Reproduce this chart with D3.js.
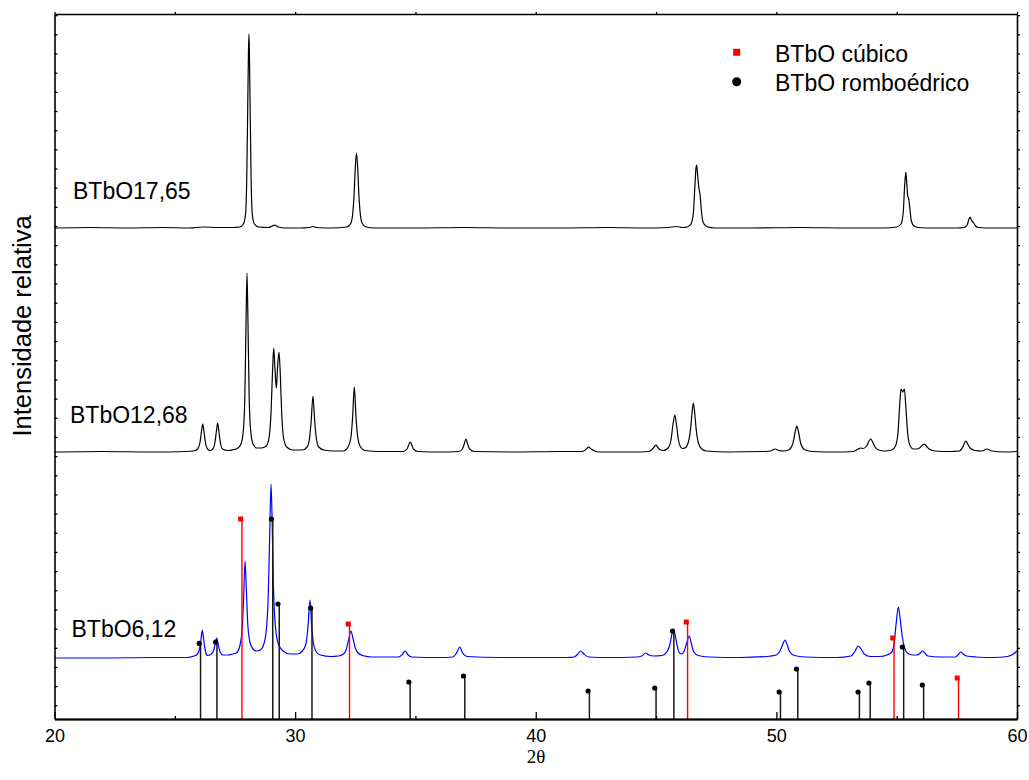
<!DOCTYPE html>
<html>
<head>
<meta charset="utf-8">
<script src="https://cdn.jsdelivr.net/npm/d3@7"></script>
<style>
  html, body { margin: 0; padding: 0; background: #fff; }
  svg { display: block; }
</style>
</head>
<body>
<svg id="chart" width="1029" height="780"></svg>
<script>
// ---- Diffraction patterns (2θ in degrees, intensity in a.u. above each pattern's background) ----
const sampleNames = ["BTbO17,65", "BTbO12,68", "BTbO6,12"];
const sampleOffsets = [491, 267, 61];   // vertical stacking shift of each pattern, a.u.

const pattern1765 = [
  [20,0],[21.5,0.5],[23,0],[24.5,0.5],[25.6,0],[26.2,1],[26.8,0.5],[27.4,0.5],[27.7,1],[27.85,4],[27.94,14],[27.99,50],
  [28.03,120],[28.06,175],[28.08,194],[28.10,175],[28.13,120],[28.17,50],[28.22,14],[28.31,4],[28.5,1],[28.9,0.5],
  [29.05,2],[29.16,3],[29.3,1],[29.6,0],[30.2,0],[30.6,0.5],[30.74,1.5],[30.9,0.5],[31.5,0],[32.15,1],[32.32,5],
  [32.40,16],[32.45,33],[32.50,60],[32.55,75],[32.60,60],[32.65,33],[32.70,16],[32.78,5],[32.95,1],[33.3,0],[35,0],
  [37,0.5],[39,0],[41,0],[43,0.5],[44.5,0],[45.5,0.5],[45.86,1.5],[46.1,0.5],[46.3,1],[46.45,4],[46.55,15],[46.61,40],
  [46.66,60],[46.69,63],[46.73,52],[46.78,40],[46.83,33],[46.88,18],[46.95,6],[47.1,1.5],[47.4,0],[49,0],[51,0.5],
  [53,0],[54.5,0],[55.0,1],[55.18,4],[55.27,15],[55.33,42],[55.38,56],[55.42,44],[55.46,32],[55.50,29],[55.55,19],
  [55.61,7],[55.72,2],[55.9,0.5],[56.5,0],[57.5,0],[57.8,0.5],[57.93,3],[57.99,8],[58.05,11],[58.10,8],[58.15,6.5],
  [58.2,5],[58.28,2],[58.4,0.5],[59,0],[60,0]
];

const pattern1268 = [
  [20,0],[22,0.5],[24,0],[25.5,0.5],[25.85,1.5],[25.95,3],[26.05,10],[26.11,21],[26.16,28],[26.21,21],[26.27,10],
  [26.36,3],[26.47,1.5],[26.58,3],[26.67,10],[26.73,21],[26.78,29],[26.83,21],[26.89,10],[26.98,3],[27.2,1.5],
  [27.45,2.5],[27.6,3.5],[27.75,8],[27.85,22],[27.91,55],[27.96,130],[28.00,179],[28.04,130],[28.09,55],[28.15,22],
  [28.25,8],[28.4,4],[28.6,4],[28.8,6],[28.92,15],[29.0,40],[29.06,80],[29.11,104],[29.16,84],[29.22,64],[29.27,85],
  [29.33,100],[29.38,80],[29.44,40],[29.52,14],[29.65,5],[29.9,2],[30.3,2],[30.5,5],[30.6,14],[30.67,32],[30.74,56],
  [30.81,32],[30.88,14],[30.98,5],[31.2,2],[31.6,1],[32.0,1],[32.2,5],[32.32,15],[32.39,35],[32.46,65],[32.53,35],
  [32.60,15],[32.72,5],[32.9,1.5],[33.5,0.5],[34.5,0.5],[34.65,3],[34.72,7],[34.78,10],[34.85,7],[34.92,3],[35.1,0.5],
  [36.0,0],[36.8,0.5],[36.95,3],[37.03,8],[37.10,13],[37.17,8],[37.25,3],[37.45,0.5],[39,0],[41,0.5],[41.95,0.5],
  [42.1,3],[42.2,5],[42.3,3],[42.45,1],[42.6,0],[44,0],[44.7,0.5],[44.85,3],[44.92,5],[44.99,7],[45.06,5],[45.15,2.5],
  [45.3,1.5],[45.5,4],[45.62,12],[45.7,27],[45.78,37],[45.85,27],[45.93,12],[46.02,5],[46.1,3.5],[46.2,4],[46.33,9],
  [46.43,22],[46.49,38],[46.55,49],[46.61,38],[46.67,22],[46.76,9],[46.9,3],[47.1,1],[48,0],[49.5,0.5],[49.75,1],
  [49.95,3],[50.1,1.5],[50.3,1],[50.5,2],[50.68,8],[50.78,20],[50.85,26],[50.92,20],[51.02,8],[51.2,2],[51.5,0.5],
  [52.5,0],[53.2,0.5],[53.4,3],[53.5,4],[53.6,3.5],[53.75,6],[53.85,11],[53.92,13],[54.0,10],[54.1,5],[54.25,2],
  [54.5,1],[54.8,2],[54.95,6],[55.05,18],[55.12,45],[55.18,63],[55.25,60],[55.32,63],[55.38,45],[55.46,18],[55.56,6],
  [55.7,3],[55.85,3],[55.95,4],[56.08,7],[56.15,8],[56.23,6],[56.35,3],[56.6,1],[57.2,0.5],[57.6,1],[57.75,5],
  [57.82,9],[57.88,11],[57.95,8],[58.05,4],[58.25,1.5],[58.55,1],[58.75,3],[58.95,1],[59.5,0],[60,0.5]
];

const pattern612 = [
  [20,0],[22,0],[24,0.5],[25.5,0.5],[25.8,2],[25.9,3],[26.0,7],[26.07,15],[26.14,28],[26.2,18],[26.27,7],[26.35,2.5],
  [26.5,3.5],[26.62,8],[26.69,15],[26.74,20],[26.8,14],[26.88,6],[27.0,3],[27.2,3],[27.4,4],[27.55,5],[27.7,12],
  [27.8,30],[27.86,60],[27.92,97],[27.97,70],[28.03,35],[28.12,16],[28.25,9],[28.4,7],[28.55,8],[28.7,14],[28.8,28],
  [28.88,60],[28.94,120],[29.0,174],[29.05,130],[29.1,70],[29.18,32],[29.3,14],[29.5,7],[29.8,4],[30.1,4],[30.3,7],
  [30.45,14],[30.53,30],[30.62,58],[30.68,35],[30.76,15],[30.88,6],[31.05,3],[31.5,1.5],[31.8,2],[32.0,4],[32.12,8],
  [32.22,18],[32.32,27],[32.4,20],[32.5,10],[32.62,5],[32.8,2.5],[33.2,1],[34.3,1],[34.45,3.5],[34.57,7],[34.68,3.5],
  [34.85,1],[36.0,0.5],[36.55,1],[36.7,4.5],[36.84,11],[36.96,5],[37.15,1.5],[38.5,0.5],[40,0.5],[41.3,0.5],[41.6,1],
  [41.75,4],[41.87,7],[42.0,4],[42.2,1],[43,0.5],[44.2,1],[44.4,2],[44.57,5],[44.7,3],[44.9,2],[45.25,2.5],[45.45,6],
  [45.58,14],[45.66,24],[45.72,28],[45.8,22],[45.88,12],[45.95,6],[46.05,4],[46.15,6],[46.26,14],[46.38,22],[46.47,14],
  [46.57,6],[46.75,2.5],[47.2,1],[48.5,0.5],[49.6,1.5],[50.0,3],[50.15,7],[50.27,14],[50.36,18],[50.45,13],[50.56,6],
  [50.75,2.5],[51.2,1],[52.5,0.5],[53.1,2],[53.25,6],[53.4,12],[53.52,9],[53.65,4],[53.9,1.5],[54.3,1.5],[54.6,3],
  [54.8,6],[54.9,16],[54.98,35],[55.07,51],[55.15,38],[55.24,20],[55.33,10],[55.45,5],[55.65,3],[55.85,3],[55.98,5],
  [56.07,7],[56.17,5],[56.3,2],[56.8,1],[57.45,1],[57.58,4],[57.67,6],[57.76,4],[57.9,2],[58.3,1],[59,0.5],[59.6,1.5],
  [59.85,4],[60,7]
];

// ---- Reference reflections (2θ, relative intensity %) ----
const phaseNames = ["BTbO cúbico", "BTbO romboédrico"];
const cubicPeaks = [[27.79,100],[32.26,47.5],[46.31,48.5],[54.89,40.5],[57.57,20.5]];
const rhombPeaks = [
  [26.07,37.8],[26.75,38.5],[29.07,100],[29.34,57.5],[30.70,55.5],[34.78,18.5],[37.05,21.5],[42.23,14],
  [45.00,15.5],[45.74,44],[50.17,13.5],[50.89,25],[53.45,13.5],[53.90,18],[55.29,36],[56.12,17]
];

// ---- Axis settings ----
const xDomain = [20, 60];
const xMajorTicks = [20, 30, 40, 50, 60];
const xMinorTicks = [25, 35, 45, 55];
const yDomain = [0, 705];
const yTickStep = 19.17;
const yTickStart = 13.7;
const stickFullScale = 200;   // a.u. height of a 100 % reference line

// ---- Drawing ----
const sans = "'Liberation Sans', Arial, sans-serif";
const serif = "'Liberation Serif', 'Times New Roman', serif";
const svg = d3.select("#chart");
const plot = { left: 54.5, top: 14, right: 1017, bottom: 719 };

const x = d3.scaleLinear().domain(xDomain).range([plot.left, plot.right]);
const y = d3.scaleLinear().domain(yDomain).range([plot.bottom, plot.top]);
const yStick = d3.scaleLinear().domain([0, 100]).range([y(0), y(stickFullScale)]);

svg.append("defs").append("clipPath").attr("id", "plotClip")
  .append("rect")
  .attr("x", plot.left).attr("y", plot.top)
  .attr("width", plot.right - plot.left).attr("height", plot.bottom - plot.top);

const patterns = [pattern1765, pattern1268, pattern612];
const patternColors = ["#000000", "#000000", "#0000ff"];

const traces = svg.append("g").attr("clip-path", "url(#plotClip)");
patterns.forEach((data, i) => {
  const line = d3.line()
    .x(d => x(d[0]))
    .y(d => y(d[1] + sampleOffsets[i]))
    .curve(d3.curveMonotoneX);
  traces.append("path")
    .datum(data)
    .attr("d", line)
    .attr("fill", "none")
    .attr("stroke", patternColors[i])
    .attr("stroke-width", 1.2)
    .attr("stroke-linejoin", "round");
});

// Reference stick patterns
const markerShift = -1.3;
const sticks = svg.append("g");
sticks.selectAll("line.rhomb").data(rhombPeaks).join("line")
  .attr("class", "rhomb")
  .attr("x1", d => x(d[0])).attr("x2", d => x(d[0]))
  .attr("y1", y(0)).attr("y2", d => yStick(d[1]))
  .attr("stroke", "#1a1a1a").attr("stroke-width", 1.5);
sticks.selectAll("circle.rhomb").data(rhombPeaks).join("circle")
  .attr("class", "rhomb")
  .attr("cx", d => x(d[0]) + markerShift).attr("cy", d => yStick(d[1]))
  .attr("r", 2.6).attr("fill", "#000");
sticks.selectAll("line.cubic").data(cubicPeaks).join("line")
  .attr("class", "cubic")
  .attr("x1", d => x(d[0])).attr("x2", d => x(d[0]))
  .attr("y1", y(0)).attr("y2", d => yStick(d[1]))
  .attr("stroke", "#ff0000").attr("stroke-width", 1.4);
sticks.selectAll("rect.cubic").data(cubicPeaks).join("rect")
  .attr("class", "cubic")
  .attr("x", d => x(d[0]) + markerShift - 2.5).attr("y", d => yStick(d[1]) - 2.5)
  .attr("width", 5).attr("height", 5).attr("fill", "#ff0000");

// Axes
const axisStyle = g => {
  g.select(".domain").attr("stroke", "#000").attr("stroke-width", 1.6);
  g.selectAll(".tick line").attr("stroke", "#000").attr("stroke-width", 1.3);
};

svg.append("g")
  .attr("transform", `translate(0,${plot.bottom})`)
  .call(d3.axisBottom(x).tickValues(xMinorTicks).tickSize(-3).tickSizeOuter(0).tickFormat(""))
  .call(axisStyle);
svg.append("g")
  .attr("transform", `translate(0,${plot.bottom})`)
  .call(d3.axisBottom(x).tickValues(xMajorTicks).tickSize(-7).tickSizeOuter(0).tickPadding(10).tickFormat(d3.format("d")))
  .call(axisStyle)
  .call(g => g.attr("font-family", sans).attr("font-size", 18))
  .call(g => g.select(".domain").attr("stroke-width", 2))
  .call(g => g.selectAll(".tick text").attr("fill", "#000"));

svg.append("g")
  .attr("transform", `translate(0,${plot.top})`)
  .call(d3.axisTop(x).tickValues(xMajorTicks.concat(xMinorTicks)).tickSize(2).tickSizeOuter(0).tickFormat(""))
  .call(axisStyle);

const yTicks = d3.range(yTickStart, yDomain[1], yTickStep);
svg.append("g")
  .attr("transform", `translate(${plot.left},0)`)
  .call(d3.axisLeft(y).tickValues(yTicks).tickSize(-3).tickSizeOuter(0).tickFormat(""))
  .call(axisStyle);
svg.append("g")
  .attr("transform", `translate(${plot.right},0)`)
  .call(d3.axisRight(y).tickValues(yTicks).tickSize(3).tickSizeOuter(0).tickFormat(""))
  .call(axisStyle);

// Sample labels
const labelPos = [[73, 199], [70, 423], [71.5, 637]];
svg.append("g").selectAll("text").data(sampleNames).join("text")
  .attr("x", (d, i) => labelPos[i][0])
  .attr("y", (d, i) => labelPos[i][1])
  .attr("font-family", sans)
  .attr("font-size", 23)
  .text(d => d);

// Legend
const legend = svg.append("g");
legend.append("rect")
  .attr("x", 733.2).attr("y", 48.8).attr("width", 7).attr("height", 7).attr("fill", "#ff0000");
legend.append("circle")
  .attr("cx", 736.7).attr("cy", 81.7).attr("r", 4.5).attr("fill", "#000");
legend.selectAll("text").data(phaseNames).join("text")
  .attr("x", 775)
  .attr("y", (d, i) => 61.7 + i * 29)
  .attr("font-family", sans)
  .attr("font-size", 23)
  .text(d => d);

// Axis titles
svg.append("text")
  .attr("transform", "translate(31,326) rotate(-90)")
  .attr("text-anchor", "middle")
  .attr("font-family", sans)
  .attr("font-size", 25.5)
  .text("Intensidade relativa");
svg.append("text")
  .attr("x", 536).attr("y", 763)
  .attr("text-anchor", "middle")
  .attr("font-family", serif)
  .attr("font-size", 19)
  .text("2θ");
</script>
</body>
</html>
